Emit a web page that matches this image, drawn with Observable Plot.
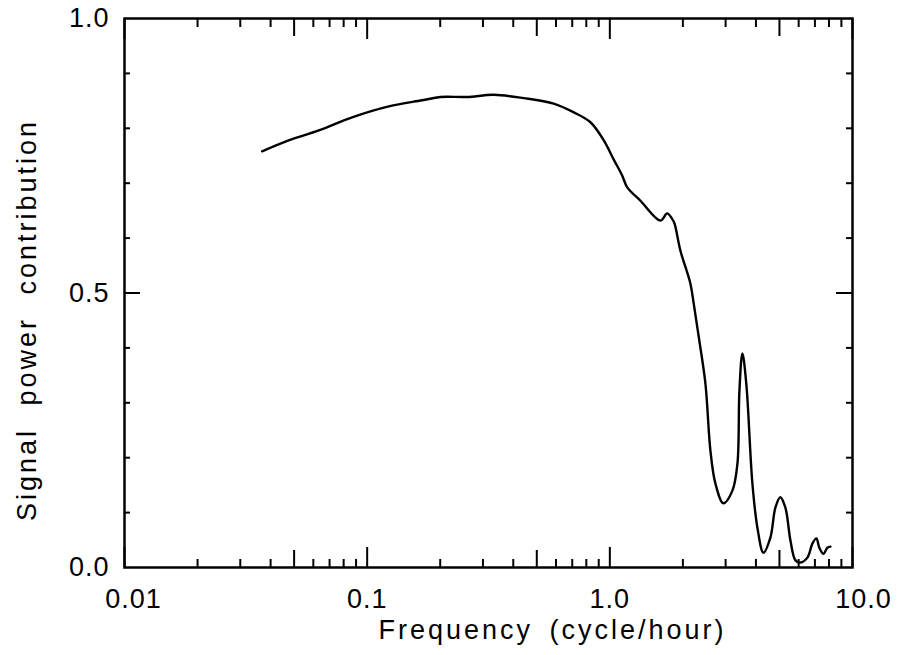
<!DOCTYPE html>
<html>
<head>
<meta charset="utf-8">
<script src="https://cdn.jsdelivr.net/npm/d3@7"></script>
<script src="https://cdn.jsdelivr.net/npm/@observablehq/plot@0.6"></script>
<style>
  html, body { margin: 0; padding: 0; background: #fff; }
  #chart svg { font-family: "Liberation Sans", "DejaVu Sans", sans-serif; }
  .title-x text { letter-spacing: 3px; word-spacing: 6px; }
  .title-y text { letter-spacing: 3px; word-spacing: 12px; }
  .ticklab text { letter-spacing: 1px; }
</style>
</head>
<body>
<div id="chart"></div>
<script>
// Frequency (cycle/hour), log axis
const frequency = [0.0369, 0.0475, 0.0632, 0.0867, 0.1228, 0.1685, 0.2005, 0.258, 0.3325, 0.4418, 0.587, 0.711, 0.832, 0.944,
  1.038, 1.124, 1.178, 1.337, 1.616, 1.722, 1.806, 1.846, 1.954, 2.148, 2.216, 2.325, 2.477, 2.597, 2.723, 2.938,
  3.2, 3.356, 3.42, 3.518, 3.65, 3.868, 4.055, 4.295, 4.59, 4.81, 5.04, 5.29, 5.55, 5.82, 6.1,
  6.52, 6.84, 7.1, 7.3, 7.59, 7.88, 8.11];
// Signal power contribution
const power = [0.758, 0.778, 0.796, 0.820, 0.840, 0.851, 0.857, 0.857, 0.861, 0.855, 0.845, 0.829, 0.811, 0.778,
  0.743, 0.714, 0.693, 0.668, 0.632, 0.645, 0.635, 0.627, 0.577, 0.517, 0.481, 0.420, 0.335, 0.213, 0.153, 0.117,
  0.140, 0.189, 0.322, 0.390, 0.335, 0.153, 0.073, 0.027, 0.055, 0.109, 0.128, 0.109, 0.049, 0.013, 0.009,
  0.018, 0.044, 0.053, 0.036, 0.025, 0.036, 0.038];

const xMajorTicks = [0.01, 0.1, 1, 10];
const xMajorLabels = ["0.01", "0.1", "1.0", "10.0"];
const xFiveTicks = [0.05, 0.5, 5];
const xMinorTicks = [0.02, 0.03, 0.04, 0.06, 0.07, 0.08, 0.09,
  0.2, 0.3, 0.4, 0.6, 0.7, 0.8, 0.9,
  2, 3, 4, 6, 7, 8, 9];
const yMajorTicks = [0, 0.5, 1];
const yMajorLabels = ["0.0", "0.5", "1.0"];
const yMinorTicks = [0.1, 0.2, 0.3, 0.4, 0.6, 0.7, 0.8, 0.9];
const xTitle = ["Frequency (cycle/hour)"];
const yTitle = ["Signal power contribution"];

const data = frequency.map((f, i) => ({f, p: power[i]}));

const tickStyle = {fill: "none", stroke: "black", strokeWidth: 2};
const xLab = (d) => xMajorLabels[xMajorTicks.indexOf(d)];
const xLabStyle = {anchor: "bottom", tickSize: 0, tickPadding: 21, fontSize: 27, tickFormat: xLab, label: null, className: "ticklab"};

const chart = Plot.plot({
  width: 898,
  height: 655,
  marginLeft: 124,
  marginRight: 46,
  marginTop: 18,
  marginBottom: 88,
  style: {background: "white", color: "black"},
  x: {type: "log", domain: [0.01, 10]},
  y: {domain: [0, 1]},
  marks: [
    // inward ticks, bottom & top
    Plot.axisX(xMajorTicks, {anchor: "bottom", tickSize: -20, ...tickStyle}),
    Plot.axisX(xFiveTicks, {anchor: "bottom", tickSize: -17, ...tickStyle}),
    Plot.axisX(xMinorTicks, {anchor: "bottom", tickSize: -8, ...tickStyle}),
    Plot.axisX(xMajorTicks, {anchor: "top", tickSize: -20, ...tickStyle}),
    Plot.axisX(xFiveTicks, {anchor: "top", tickSize: -17, ...tickStyle}),
    Plot.axisX(xMinorTicks, {anchor: "top", tickSize: -8, ...tickStyle}),
    // inward ticks, left & right
    Plot.axisY([0.5], {anchor: "left", tickSize: -16, ...tickStyle}),
    Plot.axisY(yMinorTicks, {anchor: "left", tickSize: -6, ...tickStyle}),
    Plot.axisY([0.5], {anchor: "right", tickSize: -17, ...tickStyle}),
    Plot.axisY(yMinorTicks, {anchor: "right", tickSize: -7, ...tickStyle}),
    // tick labels
    Plot.axisX(xMajorTicks.slice(0, 1), {...xLabStyle, dx: 9}),
    Plot.axisX(xMajorTicks.slice(1, 3), {...xLabStyle}),
    Plot.axisX(xMajorTicks.slice(3), {...xLabStyle, dx: 11}),
    Plot.axisY(yMajorTicks, {anchor: "left", tickSize: 0, tickPadding: 15, fontSize: 27,
      tickFormat: (d) => yMajorLabels[yMajorTicks.indexOf(d)], label: null, className: "ticklab"}),
    // titles
    Plot.text(xTitle, {frameAnchor: "bottom", textAnchor: "middle", dx: 64, dy: 71, fontSize: 27, className: "title-x"}),
    Plot.text(yTitle, {frameAnchor: "left", textAnchor: "middle", rotate: -90, dx: -97, dy: 27, fontSize: 27, className: "title-y"}),
    // frame
    Plot.frame({stroke: "black", strokeWidth: 2.5}),
    // curve
    Plot.line(data, {x: "f", y: "p", stroke: "black", strokeWidth: 2.4, curve: "catmull-rom"})
  ]
});
document.getElementById("chart").appendChild(chart);
</script>
</body>
</html>
